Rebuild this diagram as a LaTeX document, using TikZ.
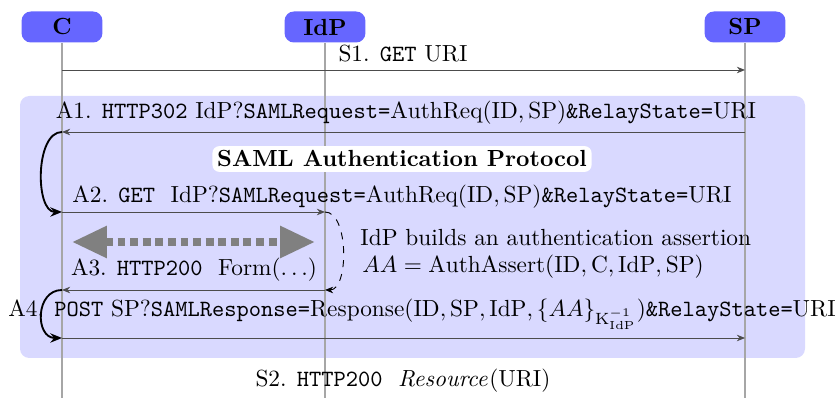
\documentclass[tikz,border=0pt]{standalone}
\usepackage{amsmath,amssymb}
\usepackage{tikz}
\usetikzlibrary{arrows.meta}

\tikzset{
  party/.style={fill=blue!60, rounded corners=4pt, minimum width=34.7pt,
    minimum height=13.3pt, inner sep=0pt, font=\bfseries},
  lifeline/.style={gray!70, line width=0.5pt},
  msg/.style={black!70, -{Stealth[length=3.5pt,width=2.8pt]}},
  hop/.style={black, line width=0.8pt, -{Stealth[length=5pt,width=4pt]}},
  lbl/.style={inner sep=0pt, anchor=base},
}

\begin{document}
\begin{tikzpicture}[x=0.429pt,y=-0.429pt]
  \useasboundingbox (0,0) rectangle (837,398);
  \fill[blue!15, rounded corners=4pt] (20,96) rectangle (805,358);

  \node[party] (C) at (62,27) {C};
  \node[party] (IdP) at (325,27) {IdP};
  \node[party] (SP) at (745,27) {SP};

  \coordinate (bottom) at (0,398);
  \foreach \p in {C,IdP,SP}
    \draw[lifeline] (\p) -- (\p |- bottom);

  \foreach \m/\y in {s1/70,a1/132,a2/212,a3/290,a4/338} {
    \coordinate (C-\m) at (C |- 0,\y);
    \coordinate (I-\m) at (IdP |- 0,\y);
    \coordinate (S-\m) at (SP |- 0,\y);
  }

  \draw[msg] (C-s1) -- (S-s1);
  \node[lbl] (t-s1) at (403,62) {S1. \texttt{GET} URI};

  \draw[msg] (S-a1) -- (C-a1);
  \node[lbl] (t-a1) at (406,119) {A1. \texttt{HTTP302} IdP?\texttt{SAMLRequest=}$\mathrm{AuthReq}(\mathrm{ID},\mathrm{SP})$\texttt{\&RelayState=}URI};
  \draw[hop] (C-a1) .. controls (35,132) and (35,212) .. (C-a2);

  \node[fill=white, rounded corners=3pt, inner sep=2pt, font=\bfseries] (proto) at (402,159) {SAML Authentication Protocol};

  \draw[msg] (C-a2) -- (I-a2);
  \node[lbl, anchor=base west] (t-a2) at (72,203) {A2. \texttt{GET}\ \ IdP?\texttt{SAMLRequest=}$\mathrm{AuthReq}(\mathrm{ID},\mathrm{SP})$\texttt{\&RelayState=}URI};
  \draw[black, dashed, -{Stealth[length=3.5pt,width=2.8pt]}] (I-a2) .. controls (349,212) and (349,290) .. (I-a3);

  \coordinate (fl) at (72,242);
  \coordinate (fr) at (315,242);
  \draw[gray, line width=3.4pt, dotted, {Triangle[length=15pt,width=13pt]}-{Triangle[length=15pt,width=13pt]}] (fl) -- (fr);

  \node[lbl, anchor=base west] (build) at (360,246) {IdP builds an authentication assertion};
  \node[lbl, anchor=base west] (assert) at (362,273) {$AA = \mathrm{AuthAssert}(\mathrm{ID},\mathrm{C},\mathrm{IdP},\mathrm{SP})$};

  \draw[msg] (I-a3) -- (C-a3);
  \node[lbl] (t-a3) at (194,276) {A3. \texttt{HTTP200}\ \ $\mathrm{Form}(\ldots)$};
  \draw[hop] (C-a3) .. controls (35,290) and (35,338) .. (C-a4);

  \draw[msg] (C-a4) -- (S-a4);
  \node[lbl, anchor=base west] (t-a4) at (8,317) {A4. \texttt{POST} SP?\texttt{SAMLResponse=}$\mathrm{Response}(\mathrm{ID},\mathrm{SP},\mathrm{IdP},\{AA\}_{\mathrm{K}^{-1}_{\mathrm{IdP}}})$\texttt{\&RelayState=}URI};

  \node[lbl] (t-s2) at (403,387) {S2. \texttt{HTTP200}\ \ $\mathit{Resource}(\mathrm{URI})$};
\end{tikzpicture}
\end{document}
